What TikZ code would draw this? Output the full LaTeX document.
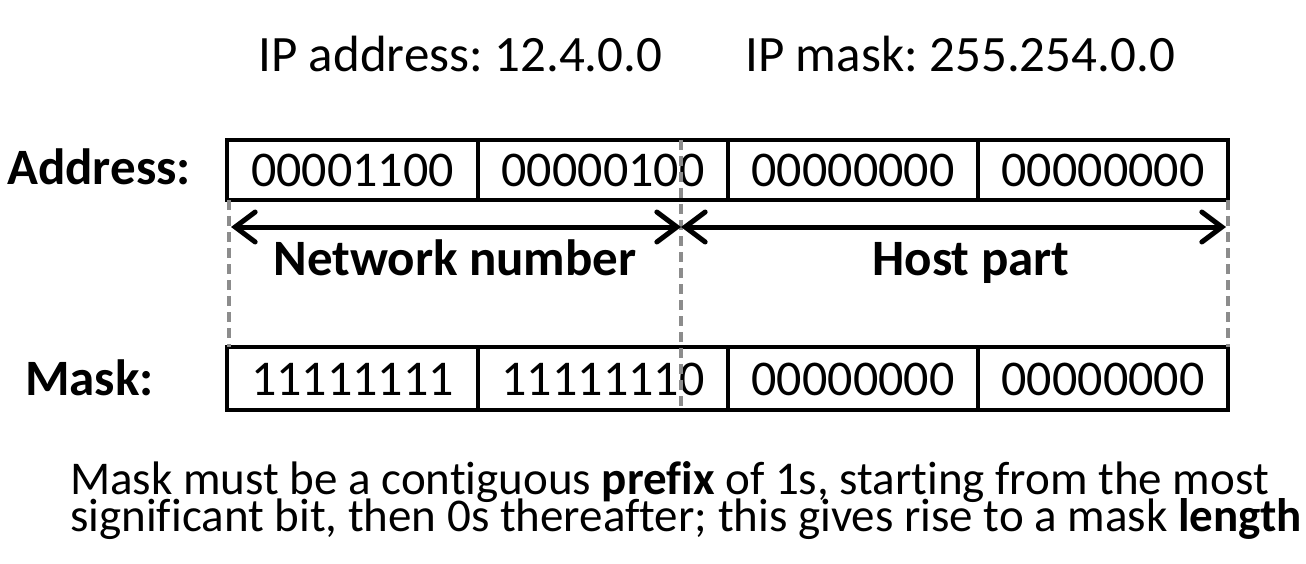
\documentclass[tikz,border=0pt]{standalone}
\usepackage{fontspec}
\setmainfont{Carlito}[Ligatures={NoCommon}]
\usetikzlibrary{arrows.meta}
\definecolor{dashgray}{HTML}{8C8C8C}
\frenchspacing
\begin{document}
\begin{tikzpicture}[x=1pt,y=-1pt,
  txt/.style={inner sep=0pt,font=\fontsize{50}{60}\selectfont},
  toptxt/.style={inner sep=0pt,font=\fontsize{51}{60}\selectfont},
  notetxt/.style={inner sep=0pt,font=\fontsize{47}{50}\selectfont},
  btxt/.style={inner sep=0pt,font=\fontsize{51}{60}\selectfont\bfseries},
  cellbox/.style={draw=black,line width=3.5pt},
  guide/.style={draw=dashgray,line width=3.5pt,dash pattern=on 10pt off 6pt},
  span/.style={line width=5pt,{Straight Barb[length=20pt,width=30pt,line cap=round]}-{Straight Barb[length=20pt,width=30pt,line cap=round]},line cap=round}]
\useasboundingbox (0,0) rectangle (1306,564);
% top texts
\node[toptxt,anchor=base west] (ipaddr) at (258,72) {IP address: 12.4.0.0};
\node[toptxt,anchor=base west] (ipmask) at (745,72) {IP mask: 255.254.0.0};
% address row
\node[btxt,anchor=base east] (addrlbl) at (191,185) {Address:};
\draw[cellbox] (227,140) rectangle (1228,200);
\foreach \x in {478,728,978} \draw[cellbox] (\x,140) -- (\x,200);
\node[txt,anchor=base] (a1) at (352.5,186) {00001100};
\node[txt,anchor=base] (a2) at (603,186) {00000100};
\node[txt,anchor=base] (a3) at (853,186) {00000000};
\node[txt,anchor=base] (a4) at (1103,186) {00000000};
% mask row
\node[btxt,anchor=base west] (masklbl) at (25,395) {Mask:};
\draw[cellbox] (227,347) rectangle (1228,410);
\foreach \x in {478,728,978} \draw[cellbox] (\x,347) -- (\x,410);
\node[txt,anchor=base] (m1) at (352.5,395) {11111111};
\node[txt,anchor=base] (m2) at (603,395) {11111110};
\node[txt,anchor=base] (m3) at (853,395) {00000000};
\node[txt,anchor=base] (m4) at (1103,395) {00000000};
% guides
\coordinate (gl1) at (229,200); \coordinate (gl2) at (229,347);
\coordinate (gm1) at (681,140); \coordinate (gm2) at (681,410);
\coordinate (gr1) at (1228,200); \coordinate (gr2) at (1228,347);
\draw[guide] (gl1) -- (gl2);
\draw[guide] (gm1) -- (gm2);
\draw[guide] (gr1) -- (gr2);
% spans
\coordinate (sl) at (231,227); \coordinate (sm) at (681,227); \coordinate (sr) at (1226,227);
\draw[span] (sl) -- (sm);
\draw[span] (sm) -- (sr);
\node[btxt,anchor=base] (net) at (455,275) {Network number};
\node[btxt,anchor=base] (host) at (971,275) {Host part};
% bottom
\node[notetxt,anchor=base west] (note1) at (70,494) {Mask must be a contiguous \textbf{prefix} of 1s, starting from the most};
\node[notetxt,anchor=base west] (note2) at (70,531) {significant bit, then 0s thereafter; this gives rise to a mask \textbf{length}};
\end{tikzpicture}
\end{document}
